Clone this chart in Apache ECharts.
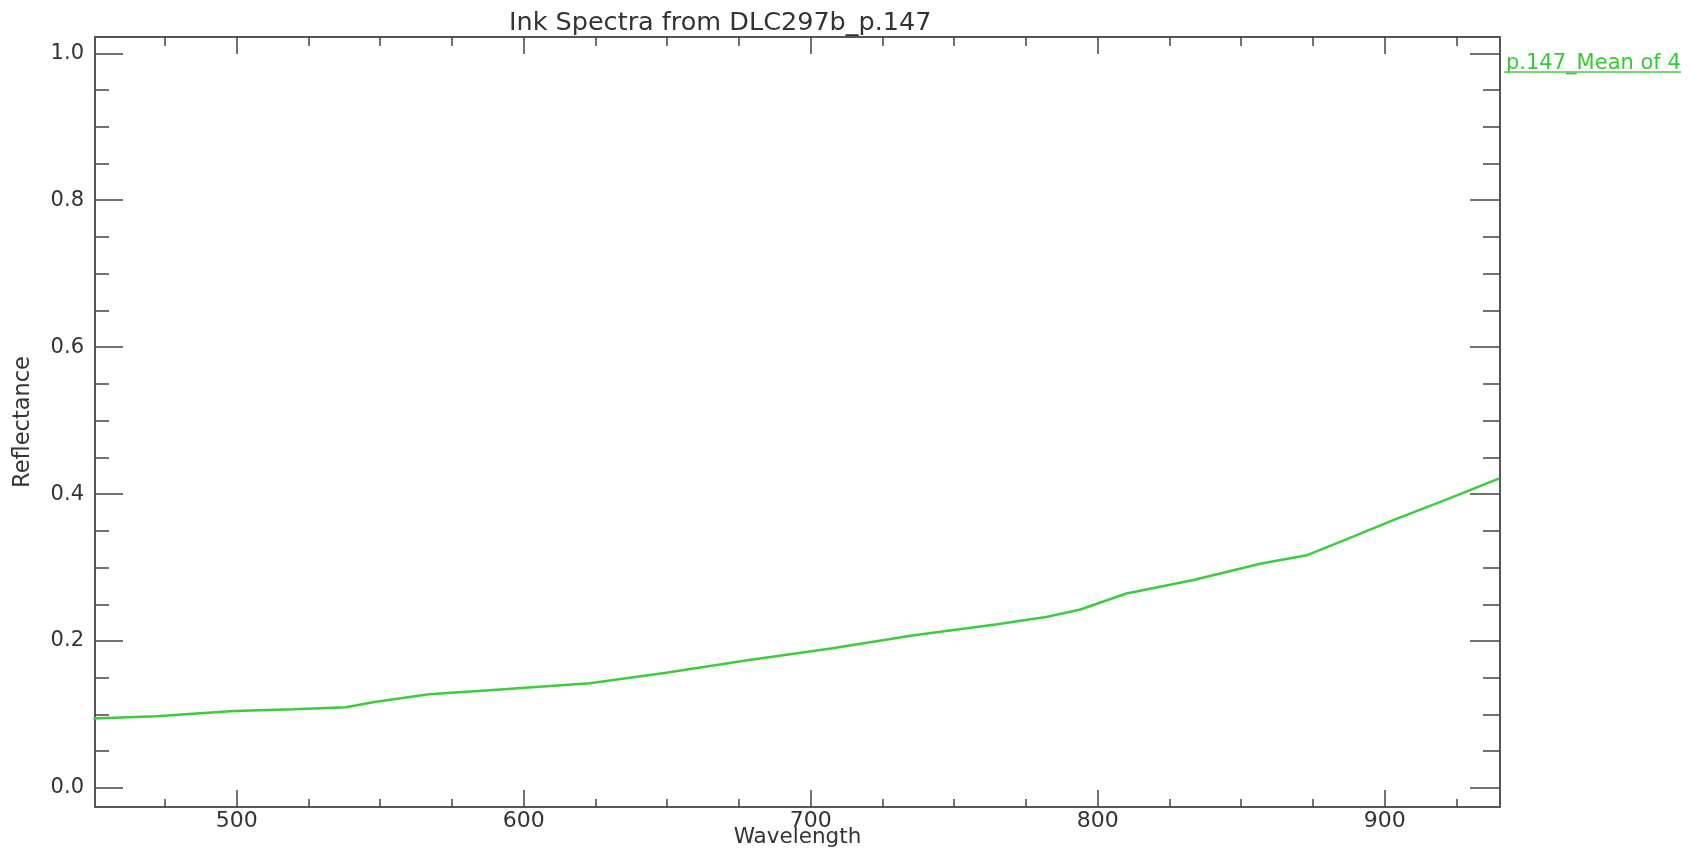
<!DOCTYPE html>
<html>
<head>
<meta charset="utf-8">
<script src="https://cdn.jsdelivr.net/npm/echarts@6/dist/echarts.min.js"></script>
<style>
html,body{margin:0;padding:0;background:#fff;}
#chart{width:1690px;height:853px;}
</style>
</head>
<body>
<div id="chart"></div>
<script>
// ---- data ----
const wavelengths = [450, 472, 499, 520, 538, 548, 567, 588, 623, 649, 678, 707, 736, 765, 782, 794, 810, 833, 857, 873, 886, 903, 921, 940];
const reflectance = [0.0945, 0.0976, 0.1048, 0.1072, 0.110, 0.1171, 0.1276, 0.1330, 0.1426, 0.1566, 0.1739, 0.1898, 0.2079, 0.2229, 0.2328, 0.2429, 0.2647, 0.2828, 0.3056, 0.3169, 0.3373, 0.3645, 0.3918, 0.4213];
const seriesName = 'p.147_Mean of 4';
const titleText = 'Ink Spectra from DLC297b_p.147';
const xMajorTicks = [500, 600, 700, 800, 900];
const xMinorTicks = [475, 525, 550, 575, 625, 650, 675, 725, 750, 775, 825, 850, 875, 925];
const yMajorTicks = [0, 0.2, 0.4, 0.6, 0.8, 1.0];
const yMinorTicks = [0.05, 0.1, 0.15, 0.25, 0.3, 0.35, 0.45, 0.5, 0.55, 0.65, 0.7, 0.75, 0.85, 0.9, 0.95];

const X_MIN = 450.6, X_MAX = 940.2;
const Y_MIN = -0.0259, Y_MAX = 1.0222;

const axisColor = '#555';
const textColor = '#333';
const lineGreen = '#3ccc3c';
const FONT = 'DejaVu Sans';

const chart = echarts.init(document.getElementById('chart'), null, {renderer: 'canvas'});

function xAx(pos, ticks, len, showLine, labels) {
  return {
    type: 'value', position: pos, min: X_MIN, max: X_MAX,
    axisLine: {show: showLine, onZero: false, lineStyle: {color: axisColor, width: 2}},
    axisTick: {show: true, inside: true, length: len, customValues: ticks, lineStyle: {color: '#444', width: 1.5}},
    axisLabel: labels ? {show: true, customValues: ticks, margin: 3, color: textColor,
      fontFamily: FONT, fontSize: 22, formatter: v => String(Math.round(v))} : {show: false},
    splitLine: {show: false}
  };
}
function yAx(pos, ticks, len, showLine, labels) {
  return {
    type: 'value', position: pos, min: Y_MIN, max: Y_MAX,
    axisLine: {show: showLine, onZero: false, lineStyle: {color: axisColor, width: 2}},
    axisTick: {show: true, inside: true, length: len, customValues: ticks, lineStyle: {color: '#444', width: 1.5}},
    axisLabel: labels ? {show: true, customValues: ticks, margin: 11, color: textColor,
      fontFamily: FONT, fontSize: 21, formatter: v => v.toFixed(1)} : {show: false},
    splitLine: {show: false}
  };
}

const xMainB = xAx('bottom', xMajorTicks, 17, true, true);
xMainB.name = 'Wavelength';
xMainB.nameLocation = 'middle';
xMainB.nameGap = 19;
xMainB.nameMoveOverlap = false;
xMainB.nameTextStyle = {color: textColor, fontFamily: FONT, fontSize: 21.5};

const yMainL = yAx('left', yMajorTicks, 28, true, true);
yMainL.name = 'Reflectance';
yMainL.nameLocation = 'middle';
yMainL.nameGap = 60;
yMainL.nameRotate = 90;
yMainL.nameTextStyle = {color: textColor, fontFamily: FONT, fontSize: 22.5};

const option = {
  backgroundColor: '#fff',
  animation: false,
  title: {
    text: titleText, left: 504, top: 5,
    textStyle: {color: textColor, fontFamily: FONT, fontSize: 25.5, fontWeight: 'normal'}
  },
  legend: {
    left: 1496, top: 48, icon: 'none', itemWidth: 0, itemGap: 0,
    data: [seriesName],
    textStyle: {color: '#33cc33', fontFamily: FONT, fontSize: 21}
  },
  grid: {left: 95, top: 37, width: 1405, height: 770, containLabel: false, outerBoundsMode: 'none'},
  xAxis: [
    xMainB,
    xAx('bottom', xMinorTicks, 8, false, false),
    xAx('top', xMajorTicks, 17, true, false),
    xAx('top', xMinorTicks, 9, false, false)
  ],
  yAxis: [
    yMainL,
    yAx('left', yMinorTicks, 14, false, false),
    yAx('right', yMajorTicks, 30, true, false),
    yAx('right', yMinorTicks, 17, false, false)
  ],
  graphic: [{
    type: 'line', shape: {x1: 1504, y1: 72, x2: 1681, y2: 72},
    style: {stroke: '#44cc44', lineWidth: 1.5}
  }],
  series: [{
    name: seriesName, type: 'line', xAxisIndex: 0, yAxisIndex: 0,
    showSymbol: false, symbol: 'none', clip: true,
    lineStyle: {color: lineGreen, width: 2.5},
    itemStyle: {color: lineGreen},
    data: wavelengths.map((w, i) => [w, reflectance[i]])
  }]
};
chart.setOption(option);
</script>
</body>
</html>
